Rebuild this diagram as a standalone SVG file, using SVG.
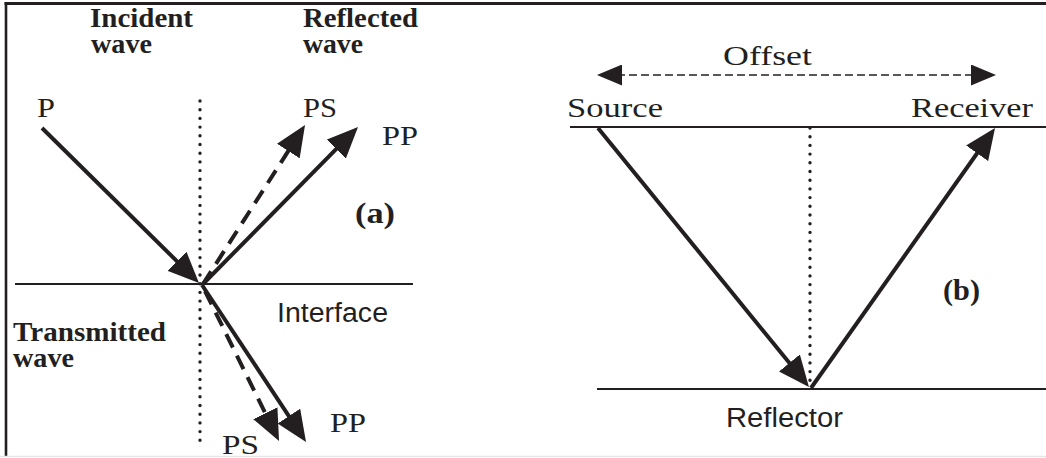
<svg xmlns="http://www.w3.org/2000/svg" width="1046" height="458" viewBox="0 0 1046 458">
<style>
.frame{stroke:#231f20;fill:none}
.ray{stroke:#231f20;stroke-width:4;fill:none}
.dash{stroke-dasharray:15 9}
.thin{stroke:#231f20;stroke-width:2;fill:none}
.dot{stroke:#231f20;stroke-width:3.4;stroke-linecap:round;stroke-dasharray:0 8.7;fill:none}
.off{stroke:#231f20;stroke-width:1.6;stroke-dasharray:8 4;fill:none}
.b{font-family:"Liberation Serif","Times New Roman",serif;font-weight:bold;font-size:27px;fill:#231f20}
.s{font-family:"Liberation Serif","Times New Roman",serif;font-size:28px;fill:#231f20}
.a{font-family:"Liberation Sans",Arial,sans-serif;font-size:27px;fill:#231f20}
.lbl{font-family:"Liberation Serif","Times New Roman",serif;font-weight:bold;font-size:30px;fill:#231f20}
</style>
<defs>
<marker id="ah" viewBox="0 0 31 27" markerWidth="31" markerHeight="27" refX="23" refY="13.5" markerUnits="userSpaceOnUse" orient="auto">
<path d="M0,0 L31,13.5 L0,27 Z" fill="#231f20"/>
</marker>
<marker id="sh" viewBox="0 0 25 21" markerWidth="25" markerHeight="21" refX="17" refY="10.5" markerUnits="userSpaceOnUse" orient="auto-start-reverse">
<path d="M0,0 L25,10.5 L0,21 Z" fill="#231f20"/>
</marker>
</defs>
<rect width="1046" height="458" fill="#ffffff"/>
<g id="frame">
<line class="frame" x1="4.5" y1="3.5" x2="1046" y2="3.5" stroke-width="3"/>
<line class="frame" x1="6" y1="2" x2="6" y2="456" stroke-width="2.6"/>
<line x1="0" y1="456.5" x2="1046" y2="456.5" stroke="#e6e6e6" stroke-width="1.5"/>
</g>
<g id="panel-a">
<g id="interface"><line class="thin" x1="15" y1="284" x2="413" y2="284"/><text class="a" x="277" y="322" textLength="111" lengthAdjust="spacingAndGlyphs">Interface</text></g>
<g id="normal-a"><line class="dot" x1="200" y1="101" x2="200" y2="442"/></g>
<g id="label-incident"><text class="b" x="90" y="27" textLength="103" lengthAdjust="spacingAndGlyphs">Incident</text><text class="b" x="91" y="53" textLength="61" lengthAdjust="spacingAndGlyphs">wave</text></g>
<g id="label-reflected"><text class="b" x="303" y="27" textLength="115" lengthAdjust="spacingAndGlyphs">Reflected</text><text class="b" x="303" y="53" textLength="60" lengthAdjust="spacingAndGlyphs">wave</text></g>
<g id="label-transmitted"><text class="b" x="13" y="341" textLength="153" lengthAdjust="spacingAndGlyphs">Transmitted</text><text class="b" x="13" y="367" textLength="61" lengthAdjust="spacingAndGlyphs">wave</text></g>
<g id="label-p"><text class="s" x="37" y="117" textLength="18" lengthAdjust="spacingAndGlyphs">P</text></g>
<g id="label-ps-up"><text class="s" x="303" y="117" textLength="34" lengthAdjust="spacingAndGlyphs">PS</text></g>
<g id="label-pp-up"><text class="s" x="382" y="145" textLength="36" lengthAdjust="spacingAndGlyphs">PP</text></g>
<g id="label-pp-down"><text class="s" x="330" y="432" textLength="36" lengthAdjust="spacingAndGlyphs">PP</text></g>
<g id="label-ps-down"><text class="s" x="222" y="454" textLength="37" lengthAdjust="spacingAndGlyphs">PS</text></g>
<g id="label-a"><text class="lbl" x="355" y="223" textLength="40" lengthAdjust="spacingAndGlyphs">(a)</text></g>
</g>
<g id="panel-b">
<g id="surface"><line class="thin" x1="570" y1="127" x2="1046" y2="127"/></g>
<g id="reflector"><line class="thin" x1="597" y1="389" x2="1046" y2="389"/><text class="a" x="726" y="427" textLength="117" lengthAdjust="spacingAndGlyphs">Reflector</text></g>
<g id="normal-b"><line class="dot" x1="810" y1="128" x2="810" y2="385"/></g>
<g id="label-offset"><text class="s" x="723" y="65" textLength="89" lengthAdjust="spacingAndGlyphs">Offset</text></g>
<g id="label-source"><text class="s" x="567" y="117" textLength="96" lengthAdjust="spacingAndGlyphs">Source</text></g>
<g id="label-receiver"><text class="s" x="911" y="117" textLength="122" lengthAdjust="spacingAndGlyphs">Receiver</text></g>
<g id="label-b"><text class="lbl" x="943" y="300" textLength="37" lengthAdjust="spacingAndGlyphs">(b)</text></g>
</g>
<g id="connectors">
<line class="ray" x1="42" y1="128" x2="193.3" y2="277.4" marker-end="url(#ah)"/>
<line class="ray dash" x1="203" y1="284" x2="300.7" y2="131.7" marker-end="url(#ah)"/>
<line class="ray" x1="203" y1="284" x2="352.4" y2="132.7" marker-end="url(#ah)"/>
<line class="ray" x1="202" y1="285" x2="301.6" y2="435.3" marker-end="url(#ah)"/>
<line class="ray dash" x1="205" y1="291" x2="275.5" y2="433.8" marker-end="url(#ah)"/>
<line class="ray" x1="598" y1="128" x2="803.9" y2="380.8" marker-end="url(#ah)"/>
<line class="ray" x1="811" y1="388" x2="990.4" y2="134.5" marker-end="url(#ah)"/>
<line class="off" x1="605" y1="75" x2="988" y2="75" marker-start="url(#sh)" marker-end="url(#sh)"/>
</g>
</svg>
